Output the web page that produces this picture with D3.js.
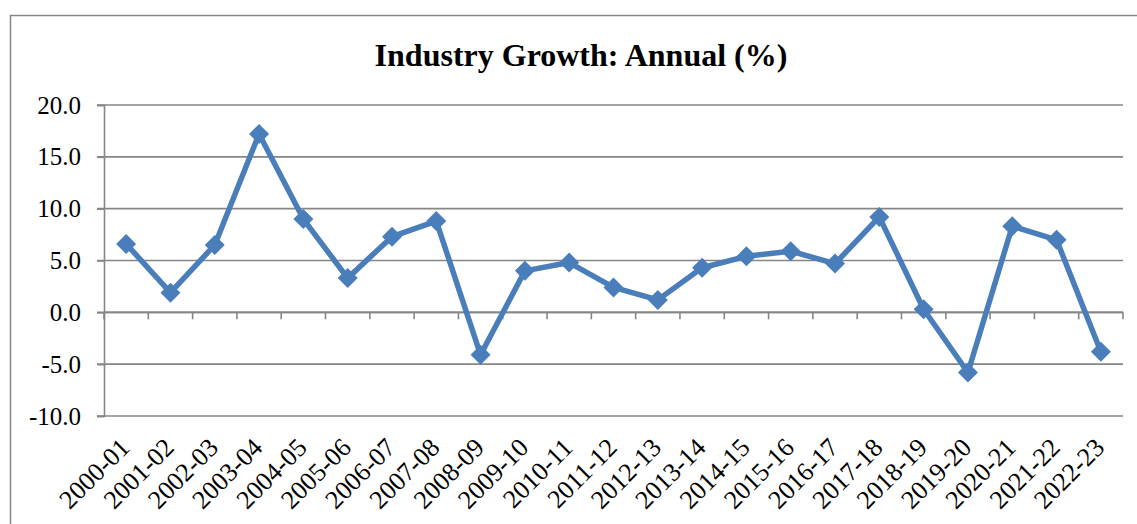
<!DOCTYPE html>
<html><head><meta charset="utf-8">
<script src="https://cdn.jsdelivr.net/npm/d3@7"></script>
<style>html,body{margin:0;padding:0;background:#fff;overflow:hidden}
svg text{font-family:"Liberation Serif","Times New Roman","DejaVu Serif",serif}</style>
</head><body>
<svg id="c" width="1137" height="524"></svg>
<script>
const categories = ["2000-01","2001-02","2002-03","2003-04","2004-05","2005-06","2006-07","2007-08","2008-09","2009-10","2010-11","2011-12","2012-13","2013-14","2014-15","2015-16","2016-17","2017-18","2018-19","2019-20","2020-21","2021-22","2022-23"];
const growth = [6.6,1.9,6.5,17.2,9.0,3.3,7.3,8.8,-4.1,4.0,4.8,2.4,1.2,4.3,5.4,5.9,4.7,9.2,0.3,-5.8,8.3,7.0,-3.8];
const yTicks = [-10,-5,0,5,10,15,20];
const title = "Industry Growth: Annual (%)";

const svg = d3.select("#c");
const L = 104, R = 1123, T = 105, B = 416;
const font = '"Liberation Serif","Times New Roman",serif';
const grid = "#868686";

svg.append("rect").attr("x",10.5).attr("y",15.5).attr("width",1140).attr("height",520)
  .attr("fill","none").attr("stroke",grid).attr("stroke-width",1.5);

svg.append("text").attr("x",581).attr("y",66).attr("text-anchor","middle")
  .style("font-family",font).attr("font-weight","bold").attr("font-size",32).text(title);

const x = d3.scaleBand().domain(categories).range([L,R]).padding(0);
const y = d3.scaleLinear().domain([-10,20]).range([B,T]);

// gridlines
svg.append("g").selectAll("line").data(yTicks).join("line")
  .attr("x1",L-7).attr("x2",R).attr("y1",d=>y(d)).attr("y2",d=>y(d))
  .attr("stroke",grid).attr("stroke-width",1.6);

// y axis
const yAxis = svg.append("g").attr("transform",`translate(${L},0)`)
  .call(d3.axisLeft(y).tickValues(yTicks).tickFormat(d=>d.toFixed(1)).tickSize(7).tickPadding(16));
yAxis.attr("font-family",null);
yAxis.select(".domain").attr("stroke",grid).attr("stroke-width",1.6);
yAxis.selectAll(".tick line").attr("stroke",grid).attr("stroke-width",1.6);
yAxis.selectAll("text").style("font-family",font).attr("font-size",25).attr("fill","#000");

// x axis at zero
const boundaries = categories.map(c=>x(c)).concat([R]);
const xg = svg.append("g");
xg.append("line").attr("x1",L).attr("x2",R).attr("y1",y(0)).attr("y2",y(0))
  .attr("stroke",grid).attr("stroke-width",1.6);
xg.selectAll("line.tk").data(boundaries).join("line").attr("class","tk")
  .attr("x1",d=>d).attr("x2",d=>d).attr("y1",y(0)).attr("y2",y(0)+7)
  .attr("stroke",grid).attr("stroke-width",1.6);

// x labels
svg.append("g").selectAll("text").data(categories).join("text")
  .attr("transform",d=>`translate(${x(d)+x.bandwidth()/2+5},${B+33}) rotate(-45)`)
  .attr("text-anchor","end").style("font-family",font).attr("font-size",26).attr("fill","#000")
  .text(d=>d);

// line
const pts = categories.map((c,i)=>({c, v:growth[i]}));
const line = d3.line().x(d=>x(d.c)+x.bandwidth()/2).y(d=>y(d.v));
svg.append("path").datum(pts).attr("d",line).attr("fill","none")
  .attr("stroke","#4a7ebb").attr("stroke-width",5.5).attr("stroke-linejoin","round");

svg.append("g").selectAll("path").data(pts).join("path")
  .attr("d",d3.symbol(d3.symbolSquare,200))
  .attr("transform",d=>`translate(${x(d.c)+x.bandwidth()/2},${y(d.v)}) rotate(45)`)
  .attr("fill","#4a7ebb");
</script>
</body></html>
